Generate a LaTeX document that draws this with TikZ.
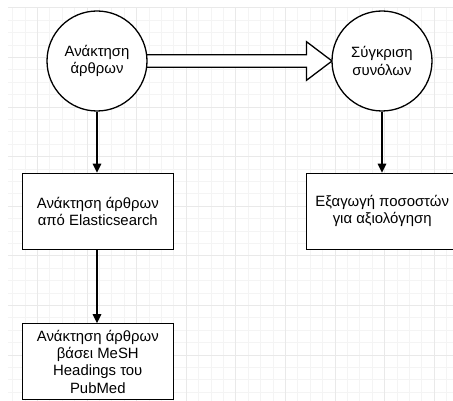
\documentclass[tikz,border=0pt]{standalone}
\usepackage{fontspec}
\setmainfont{Liberation Sans}
\usetikzlibrary{arrows.meta,calc}
\begin{document}
\begin{tikzpicture}[x=1pt,y=-1pt,
  every node/.style={font=\fontsize{14.9}{17.2}\selectfont, align=center, text=black},
  proc/.style={draw, line width=1.3pt, fill=white, circle, minimum size=100pt, inner sep=0pt},
  stepbox/.style={draw, line width=1.3pt, fill=white, minimum width=151pt, minimum height=76pt, inner sep=0pt},
  flow/.style={line width=1.3pt, -{Triangle[length=9pt,width=8.5pt]}},
  bigarrow/.style={draw, line width=1.3pt, fill=white, line join=miter},
  gridminor/.style={draw=black!4.5, line width=0.9pt},
  gridmajor/.style={draw=black!8.5, line width=1.1pt}]
\useasboundingbox (0,0) rectangle (453,401);

% background grid
\begin{scope}
  \clip (8,7.5) rectangle (453,401);
  \foreach \k in {0,...,37} {
    \draw[gridminor] (0.3+12.4*\k,0) -- ++(0,401);
  }
  \foreach \k in {0,...,32} {
    \draw[gridminor] (0,7.9+12.4*\k) -- ++(453,0);
  }
  \foreach \k in {0,...,8} {
    \draw[gridmajor] (37.5+49.6*\k,0) -- ++(0,401);
  }
  \foreach \k in {0,...,8} {
    \draw[gridmajor] (0,7.9+49.6*\k) -- ++(453,0);
  }
\end{scope}

% node centres
\coordinate (c1pos) at (97,61);
\coordinate (c2pos) at (382,61);

% block arrow between the two processes (drawn first, circles cover its tail)
\path (c2pos) ++(-50,0) coordinate (atip);
\draw[bigarrow]
  ($(c1pos)+(0,-6.2)$) -- ($(atip)+(-25.5,-6.2)$) -- ($(atip)+(-25.5,-19.3)$)
  -- (atip) -- ($(atip)+(-25.5,19.3)$) -- ($(atip)+(-25.5,6.2)$)
  -- ($(c1pos)+(0,6.2)$);

\node[proc] (fetch) at (c1pos) {Ανάκτηση\\άρθρων};
\node[proc] (compare) at (c2pos) {Σύγκριση\\συνόλων};

\node[stepbox] (elastic) at (97.8,211.3) {Ανάκτηση άρθρων\\από Elasticsearch};
\node[stepbox] (mesh) at (97.8,361.8) {Ανάκτηση άρθρων\\βάσει MeSH\\Headings του\\PubMed};
\node[stepbox] (rates) at (382.2,211.3) {Εξαγωγή ποσοστών\\για αξιολόγηση};

% connectors
\draw[flow] (fetch.south) -- (fetch.south |- elastic.north);
\draw[flow] (elastic.south -| fetch.south) -- (fetch.south |- mesh.north);
\draw[flow] (compare.south) -- (compare.south |- rates.north);
\end{tikzpicture}
\end{document}
